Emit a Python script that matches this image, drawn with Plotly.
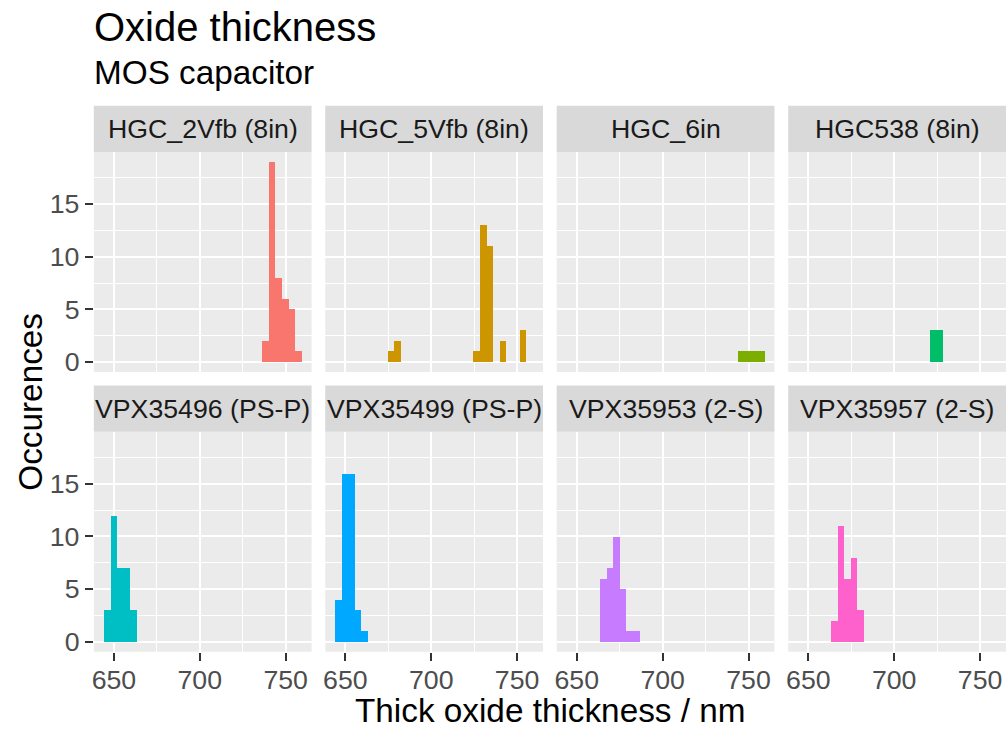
import plotly.graph_objects as go

# ---------------- data ----------------
panel_names = ["HGC_2Vfb (8in)", "HGC_5Vfb (8in)", "HGC_6in", "HGC538 (8in)",
               "VPX35496 (PS-P)", "VPX35499 (PS-P)", "VPX35953 (2-S)", "VPX35957 (2-S)"]
panel_colors = ["#F8766D", "#CD9600", "#7CAE00", "#00BE67",
                "#00BFC4", "#00A9FF", "#C77CFF", "#FF61CC"]

# histogram binning shared by all panels (30 bins)
bin_first_edge = 644.1
bin_width = 3.84

# per panel: occupied bin indices and counts
hgc_2vfb_bins = [24, 25, 26, 27, 28, 29]
hgc_2vfb_counts = [2, 19, 8, 6, 5, 1]
hgc_5vfb_bins = [8, 9, 21, 22, 23, 25, 28]
hgc_5vfb_counts = [1, 2, 1, 13, 11, 2, 3]
hgc_6in_bins = [26, 27, 28, 29]
hgc_6in_counts = [1, 1, 1, 1]
hgc538_bins = [20, 21]
hgc538_counts = [3, 3]
vpx35496_bins = [0, 1, 2, 3, 4]
vpx35496_counts = [3, 12, 7, 7, 3]
vpx35499_bins = [0, 1, 2, 3, 4]
vpx35499_counts = [4, 16, 16, 3, 1]
vpx35953_bins = [5, 6, 7, 8, 9, 10]
vpx35953_counts = [6, 7, 10, 5, 1, 1]
vpx35957_bins = [5, 6, 7, 8, 9]
vpx35957_counts = [2, 11, 6, 8, 3]

panel_bins = [hgc_2vfb_bins, hgc_5vfb_bins, hgc_6in_bins, hgc538_bins,
              vpx35496_bins, vpx35499_bins, vpx35953_bins, vpx35957_bins]
panel_counts = [hgc_2vfb_counts, hgc_5vfb_counts, hgc_6in_counts, hgc538_counts,
                vpx35496_counts, vpx35499_counts, vpx35953_counts, vpx35957_counts]

x_ticks = [650, 700, 750]
y_ticks = [0, 5, 10, 15]

title_text = "Oxide thickness"
subtitle_text = "MOS capacitor"
x_title = "Thick oxide thickness / nm"
y_title = "Occurences"

# ---------------- layout geometry (px) ----------------
W, H = 1006, 733
FONT = "Liberation Sans, Arial, Helvetica, sans-serif"
col_left = [92.0, 323.9, 555.8, 787.8]
panel_w = 218.2
rows = [  # strip top, strip bottom/panel top, panel bottom
    (106.5, 153.0, 374.5),
    (388.2, 434.7, 656.2),
]
x_range = [638.3, 765.1]
y_range = [-0.95, 19.95]

def px_x(v):
    return v / W

def px_y(v):
    return 1 - v / H

fig = go.Figure()
shapes = []
annotations = []

for i, name in enumerate(panel_names):
    r, c = divmod(i, 4)
    idx = i + 1
    xa = "x" if idx == 1 else f"x{idx}"
    ya = "y" if idx == 1 else f"y{idx}"
    centers = [bin_first_edge + (b + 0.5) * bin_width for b in panel_bins[i]]
    fig.add_trace(go.Bar(
        x=centers, y=panel_counts[i], width=[bin_width] * len(centers),
        marker=dict(color=panel_colors[i], line=dict(width=0)),
        xaxis=xa, yaxis=ya, showlegend=False, hoverinfo="x+y",
    ))
    s_top, p_top, p_bot = rows[r]
    x0, x1 = col_left[c], col_left[c] + panel_w
    xkey = "xaxis" if idx == 1 else f"xaxis{idx}"
    ykey = "yaxis" if idx == 1 else f"yaxis{idx}"
    bottom_row = (r == 1)
    left_col = (c == 0)
    fig.layout[xkey] = dict(
        domain=[px_x(x0), px_x(x1)], range=x_range, anchor=ya,
        tickvals=x_ticks, ticktext=[str(t) for t in x_ticks],
        showticklabels=bottom_row, ticks="outside" if bottom_row else "",
        ticklen=8, tickwidth=1.6, tickcolor="#333333", ticklabelstandoff=-4,
        tickfont=dict(family=FONT, size=26.7, color="#4D4D4D"),
        showgrid=True, gridcolor="#FFFFFF", gridwidth=2.4,
        minor=dict(tickvals=[675, 725], showgrid=True, gridcolor="#FFFFFF", gridwidth=1.2, ticks=""),
        zeroline=False, showline=False, fixedrange=True,
    )
    fig.layout[ykey] = dict(
        domain=[px_y(p_bot), px_y(p_top)], range=y_range, anchor=xa,
        tickvals=y_ticks, ticktext=[str(t) for t in y_ticks],
        showticklabels=left_col, ticks="outside" if left_col else "",
        ticklen=8, tickwidth=1.6, tickcolor="#333333",
        tickfont=dict(family=FONT, size=26.7, color="#4D4D4D"),
        showgrid=True, gridcolor="#FFFFFF", gridwidth=2.4,
        minor=dict(tickvals=[2.5, 7.5, 12.5, 17.5], showgrid=True, gridcolor="#FFFFFF", gridwidth=1.2, ticks=""),
        zeroline=False, showline=False, fixedrange=True,
    )
    # panel background
    shapes.append(dict(type="rect", xref="paper", yref="paper", layer="below",
                       x0=px_x(x0), x1=px_x(x1), y0=px_y(p_bot), y1=px_y(p_top),
                       fillcolor="#EBEBEB", line=dict(width=0)))
    # strip
    shapes.append(dict(type="rect", xref="paper", yref="paper", layer="below",
                       x0=px_x(x0), x1=px_x(x1), y0=px_y(p_top), y1=px_y(s_top),
                       fillcolor="#D9D9D9", line=dict(width=0)))
    annotations.append(dict(text=name, xref="paper", yref="paper",
                            x=px_x((x0 + x1) / 2), y=px_y((s_top + p_top) / 2),
                            xanchor="center", yanchor="middle", showarrow=False,
                            font=dict(family=FONT, size=26.7, color="#1A1A1A")))

annotations += [
    dict(text=title_text, xref="paper", yref="paper", x=px_x(90), y=px_y(27),
         xanchor="left", yanchor="middle", showarrow=False,
         font=dict(family=FONT, size=40, color="#000000")),
    dict(text=subtitle_text, xref="paper", yref="paper", x=px_x(90), y=px_y(73),
         xanchor="left", yanchor="middle", showarrow=False,
         font=dict(family=FONT, size=33.3, color="#000000")),
    dict(text=x_title, xref="paper", yref="paper", x=px_x(549), y=px_y(715),
         xanchor="center", yanchor="middle", showarrow=False,
         font=dict(family=FONT, size=33.3, color="#000000")),
    dict(text=y_title, xref="paper", yref="paper", x=px_x(29), y=px_y(404.5),
         xanchor="center", yanchor="middle", showarrow=False, textangle=-90,
         font=dict(family=FONT, size=33.3, color="#000000")),
]

fig.update_layout(
    width=W, height=H, margin=dict(l=0, r=0, t=0, b=0),
    paper_bgcolor="#FFFFFF", plot_bgcolor="rgba(0,0,0,0)",
    bargap=0, barmode="overlay",
    shapes=shapes, annotations=annotations,
    font=dict(family=FONT),
)

fig.write_html("out.html")
